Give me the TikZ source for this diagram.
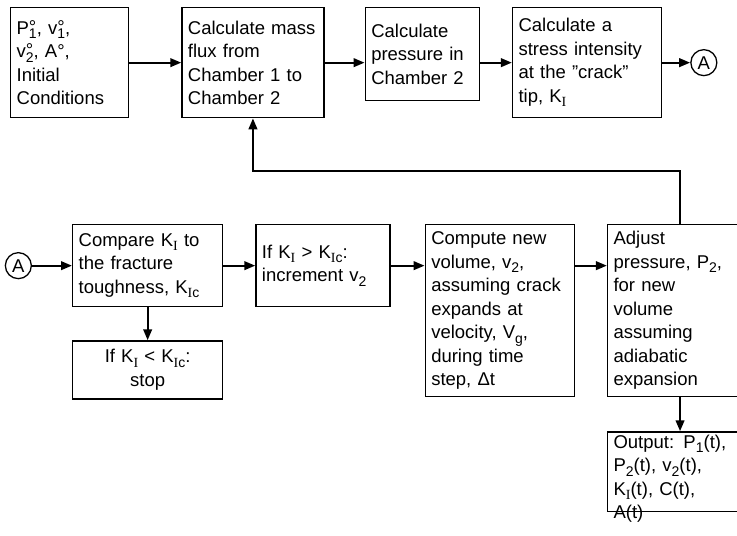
\documentclass[tikz,border=0pt]{standalone}
\usepackage{fontspec}
\setmainfont{Liberation Sans}
\newfontfamily\romI{Liberation Serif}
\usepackage{tikz}
\usetikzlibrary{arrows.meta,positioning}

\newcommand{\sbs}[1]{\raisebox{-4.5pt}{\fontsize{14}{14}\selectfont #1}}
\newcommand{\kI}{\sbs{\romI I}}
\newcommand{\kIc}{\sbs{{\romI I}c}}
\newcommand{\zro}[2]{#1\rlap{\raisebox{1pt}{°}}\sbs{#2}}

\begin{document}
\begin{tikzpicture}[x=1pt, y=-1pt, >={Triangle[length=11pt,width=8.5pt]},
    font=\fontsize{18.5}{23.5}\selectfont,
    blk/.style={draw, line width=1.3pt, inner xsep=6pt, inner ysep=3pt, align=left, anchor=north west},
    conn/.style={circle, draw, line width=1.3pt, minimum size=26pt, inner sep=0pt},
    flow/.style={->, line width=2.3pt}]
        \clip (0,0) rectangle (737,536);
        % top row
        \node[blk, text width=106pt, minimum height=110pt] (init) at (10,7) {\zro{P}{1}, \zro{v}{1},\\ \zro{v}{2}, A°,\\ Initial\\ Conditions};
        \node[blk, text width=130pt, minimum height=110pt, below right=0pt and 52pt of init.north east] (mass) {Calculate mass\\ flux from\\ Chamber 1 to\\ Chamber 2};
        \node[blk, text width=102pt, minimum height=93pt, below right=0pt and 40pt of mass.north east] (press) {Calculate\\ pressure in\\ Chamber 2};
        \node[blk, text width=137pt, minimum height=110pt, below right=0pt and 32pt of press.north east] (stress) {Calculate a\\ stress intensity\\ at the ''crack''\\ tip, K\kI};
        \node[conn, right=28pt of stress] (ca) {A};
        % bottom row
        \node[blk, text width=138pt, minimum height=82pt] (compare) at (72,224) {Compare K\kI{} to\\ the fracture\\ toughness, K\kIc};
        \node[conn, left=40pt of compare] (cb) {A};
        \node[blk, text width=122pt, minimum height=82pt, below right=0pt and 32pt of compare.north east] (ifk) {If K\kI{} > K\kIc:\\ increment v\sbs{2}};
        \node[blk, text width=137pt, minimum height=172pt, below right=0pt and 34pt of ifk.north east] (compute) {Compute new\\ volume, v\sbs{2},\\ assuming crack\\ expands at\\ velocity, V\sbs{g},\\ during time\\ step, Δt};
        \node[blk, text width=133pt, minimum height=172pt, below right=0pt and 32pt of compute.north east] (adjust) {Adjust\\ pressure, P\sbs{2},\\ for new\\ volume\\ assuming\\ adiabatic\\ expansion};
        \node[blk, align=center, anchor=north, text width=138pt, minimum height=58pt, below=33pt of compare] (stop) {If K\kI{} < K\kIc:\\ stop};
        \node[blk, anchor=north, text width=133pt, text depth=60pt, below=34pt of adjust] (output) {Output: P\sbs{1}(t),\\ P\sbs{2}(t), v\sbs{2}(t),\\ K\kI(t), C(t),\\ A(t)};
        % connectors
        \draw[flow] (init) -- (mass);
        \draw[flow] (mass.east) -- (mass.east -| press.west);
        \draw[flow] (press.east |- stress.west) -- (stress.west);
        \draw[flow] (stress) -- (ca);
        \draw[flow] (cb) -- (compare);
        \draw[flow] (compare) -- (ifk);
        \draw[flow] (compare) -- (stop);
        \draw[flow] (ifk.east) -- (ifk.east -| compute.west);
        \draw[flow] (compute.east |- ifk.east) -- (adjust.west |- ifk.east);
        \draw[flow] (adjust) -- (output);
        \draw[flow] (adjust.north) -- ++(0,-53) -| (mass.south);
\end{tikzpicture}
\end{document}
